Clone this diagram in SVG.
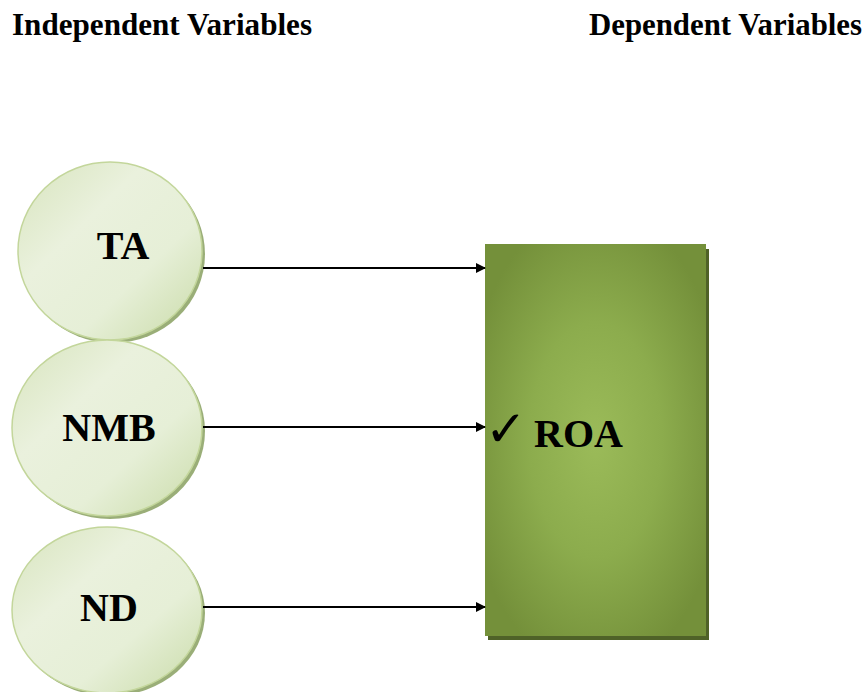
<svg xmlns="http://www.w3.org/2000/svg" width="866" height="692" viewBox="0 0 866 692">
<defs>
<linearGradient id="cg" x1="0" y1="0" x2="1" y2="1">
<stop offset="0" stop-color="#d7e4bd"/>
<stop offset="0.35" stop-color="#eaf1dd"/>
<stop offset="0.65" stop-color="#e6efd7"/>
<stop offset="1" stop-color="#c9dba8"/>
</linearGradient>
<radialGradient id="rg" cx="0.5" cy="0.5" r="0.6">
<stop offset="0" stop-color="#9bbb59"/>
<stop offset="0.5" stop-color="#8cac4d"/>
<stop offset="1" stop-color="#74903a"/>
</radialGradient>
<marker id="ah" markerWidth="10" markerHeight="10" refX="9" refY="5" orient="auto" markerUnits="userSpaceOnUse">
<path d="M0,0 L10,5 L0,10 Z" fill="#000"/>
</marker>
<style>
.title{font-family:"Liberation Serif",serif;font-weight:bold;font-size:31px;fill:#000}
.lbl{font-family:"Liberation Serif",serif;font-weight:bold;font-size:40px;fill:#000}
.ell{fill:url(#cg);stroke:#c3d69b;stroke-width:1.5}
.sh{fill:#9aae78}
.con{stroke:#000;stroke-width:2;fill:none}
</style>
</defs>
<text class="title" x="12" y="35" textLength="300" lengthAdjust="spacingAndGlyphs">Independent Variables</text>
<text class="title" x="589" y="35" textLength="273" lengthAdjust="spacingAndGlyphs">Dependent Variables</text>
<g id="node-TA">
<ellipse class="sh" cx="113" cy="254" rx="92" ry="89"/>
<ellipse class="ell" cx="110" cy="251" rx="92" ry="89"/>
<text class="lbl" x="123" y="259" text-anchor="middle">TA</text>
</g>
<g id="node-NMB">
<ellipse class="sh" cx="110" cy="431" rx="95" ry="88"/>
<ellipse class="ell" cx="107" cy="428" rx="95" ry="88"/>
<text class="lbl" x="109" y="441" text-anchor="middle">NMB</text>
</g>
<g id="node-ND">
<ellipse class="sh" cx="110" cy="613" rx="95" ry="83"/>
<ellipse class="ell" cx="107" cy="610" rx="95" ry="83"/>
<text class="lbl" x="109" y="621" text-anchor="middle">ND</text>
</g>
<g id="node-ROA">
<rect x="488" y="249" width="221" height="391" fill="#4f6228"/>
<rect x="485" y="244" width="221" height="392" fill="url(#rg)"/>
<text x="485" y="446" font-family="DejaVu Sans,sans-serif" font-size="50" fill="#000">✓</text>
<text class="lbl" x="534" y="447">ROA</text>
</g>
<g id="connectors">
<line class="con" x1="203" y1="268" x2="485" y2="268" marker-end="url(#ah)"/>
<line class="con" x1="203" y1="427" x2="485" y2="427" marker-end="url(#ah)"/>
<line class="con" x1="203" y1="607" x2="485" y2="607" marker-end="url(#ah)"/>
</g>
</svg>
